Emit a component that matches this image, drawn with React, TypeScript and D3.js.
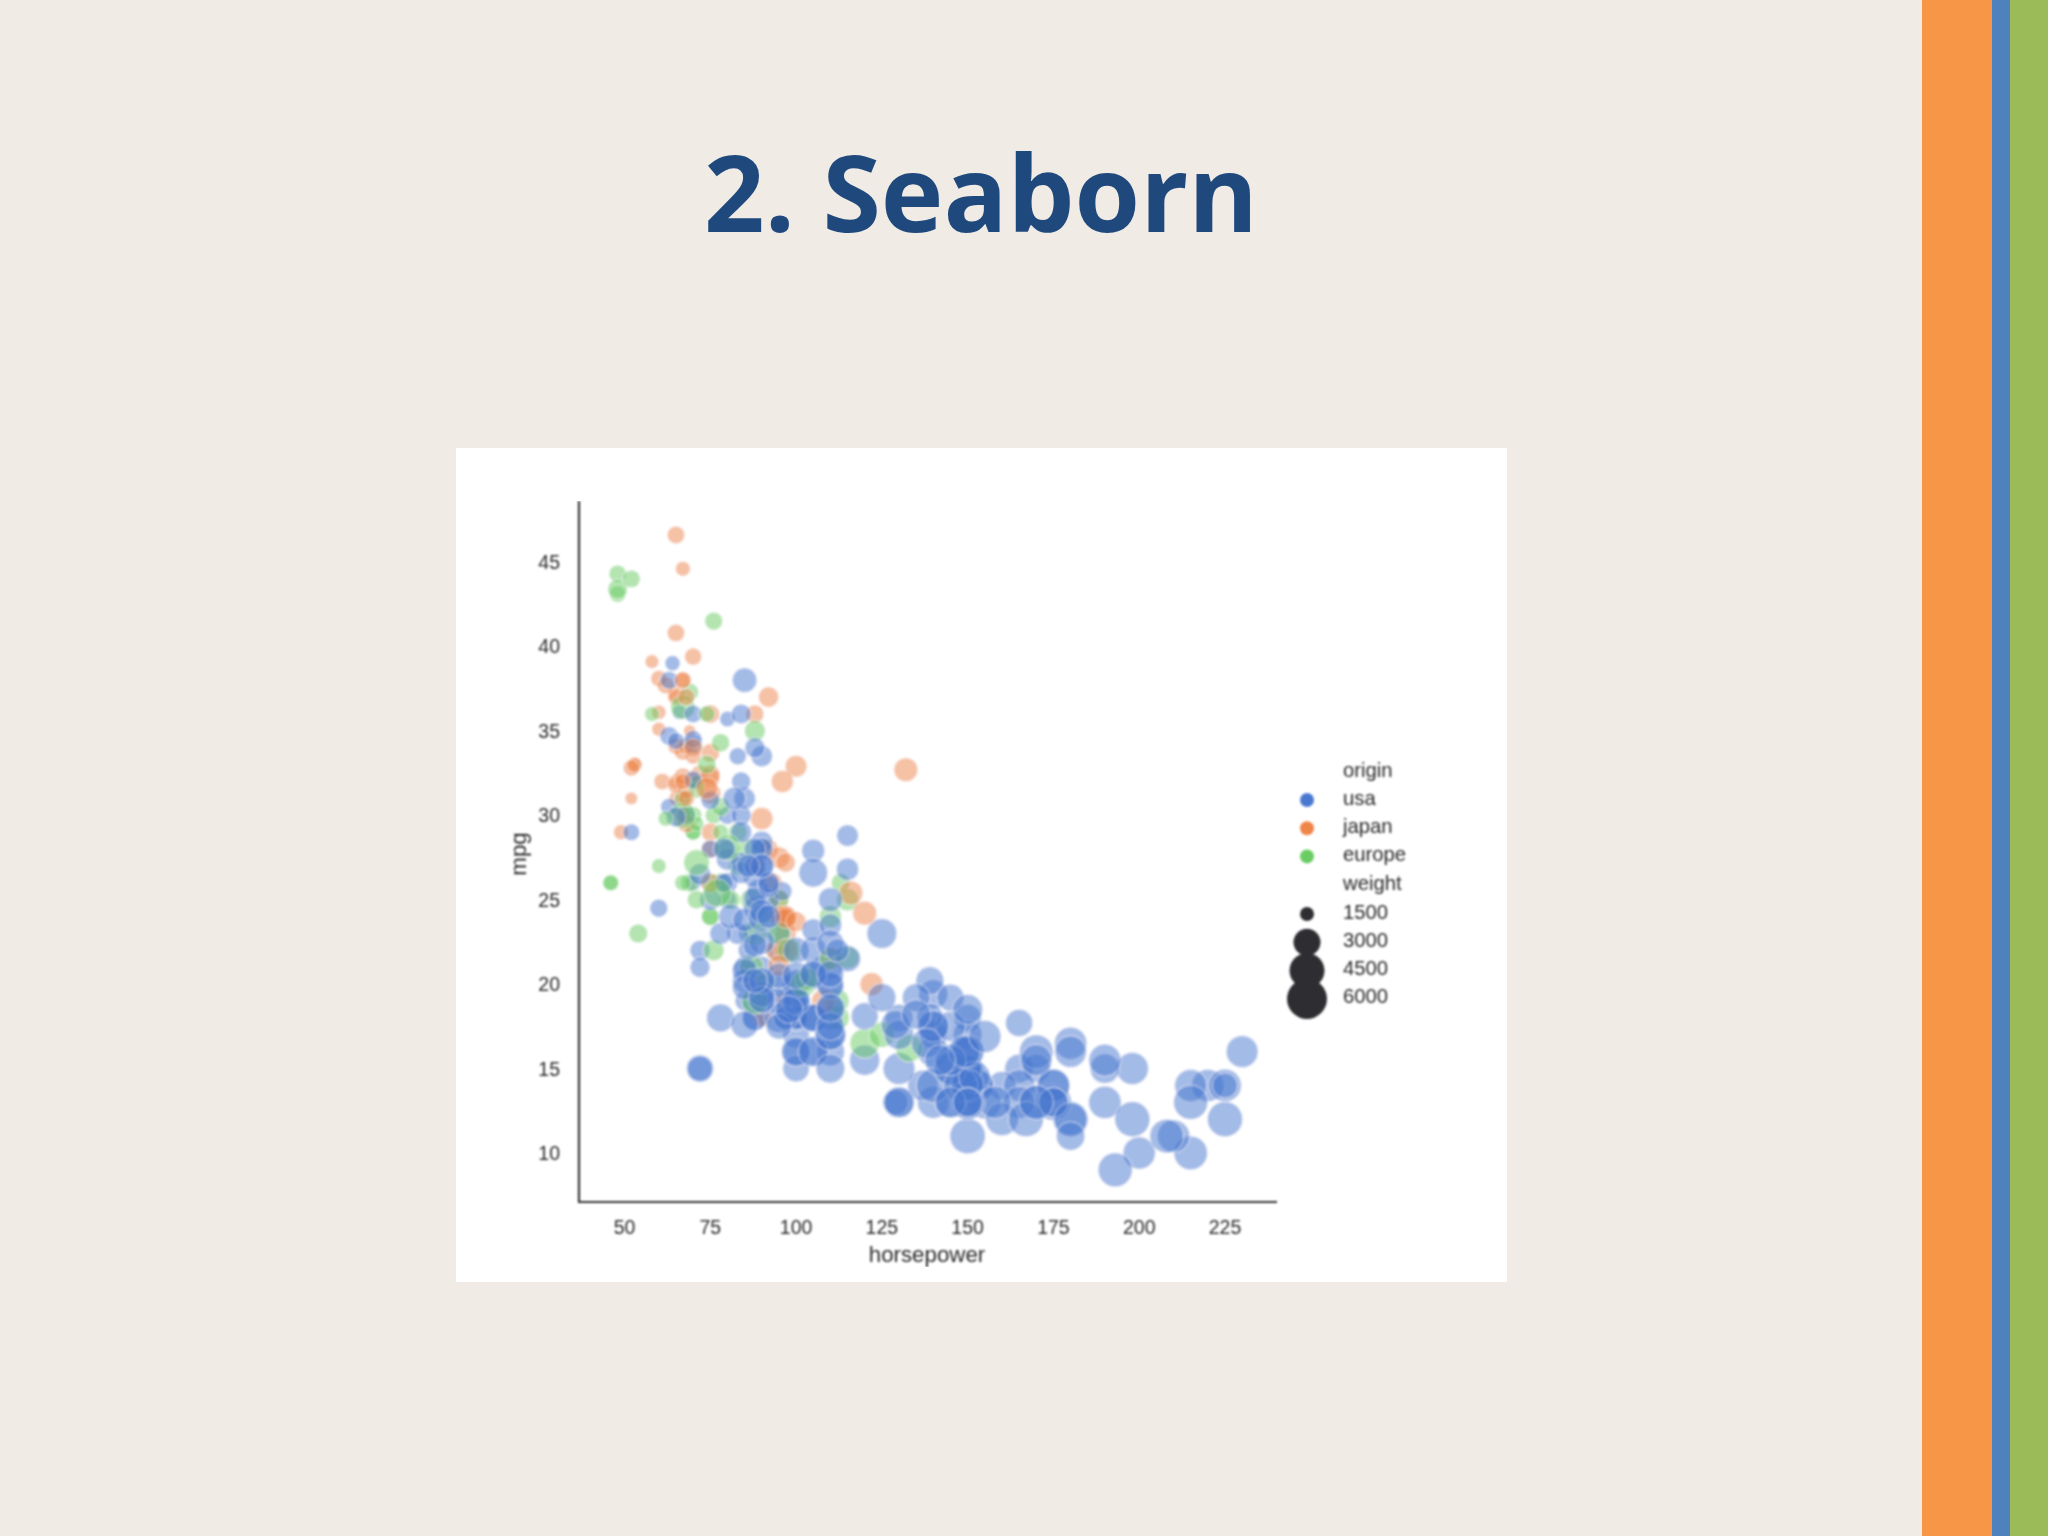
import * as React from 'react';
import * as d3 from 'd3';

// [horsepower, mpg, weight]
type Car = [number, number, number];

const usaCars: Car[] = [
  [130, 18, 3504], [165, 15, 3693], [150, 18, 3436], [150, 16, 3433], [140, 17, 3449], [198, 15, 4341],
  [220, 14, 4354], [215, 14, 4312], [225, 14, 4425], [190, 15, 3850], [170, 15, 3563], [160, 14, 3609],
  [150, 15, 3761], [225, 14, 3086], [95, 22, 2833], [97, 18, 2774], [85, 21, 2587], [90, 21, 2648],
  [215, 10, 4615], [200, 10, 4376], [210, 11, 4382], [193, 9, 4732], [90, 28, 2264], [100, 19, 2634],
  [105, 16, 3439], [100, 17, 3329], [88, 19, 3302], [100, 18, 3288], [165, 14, 4209], [175, 14, 4464],
  [153, 14, 4154], [150, 14, 4096], [180, 12, 4955], [170, 13, 4746], [175, 13, 5140], [110, 18, 2962],
  [72, 22, 2408], [100, 19, 3282], [88, 18, 3139], [86, 23, 2220], [70, 26, 1955], [80, 25, 2126],
  [90, 20, 2408], [86, 21, 2226], [165, 13, 4274], [175, 14, 4385], [150, 15, 4135], [153, 14, 4129],
  [150, 17, 3672], [208, 11, 4633], [155, 13, 4502], [160, 12, 4456], [190, 13, 4422], [150, 15, 3892],
  [130, 13, 4098], [140, 13, 4294], [150, 14, 4077], [86, 22, 2395], [80, 28, 2164], [175, 13, 4100],
  [150, 14, 3672], [145, 13, 3988], [137, 14, 4042], [150, 15, 3777], [198, 12, 4952], [150, 13, 4464],
  [158, 13, 4363], [150, 14, 4237], [215, 13, 4735], [225, 12, 4951], [175, 13, 3821], [105, 18, 3121],
  [100, 16, 3278], [100, 18, 2945], [88, 18, 3021], [95, 23, 2904], [150, 11, 4997], [167, 12, 4906],
  [170, 13, 4654], [180, 12, 4499], [100, 18, 2789], [72, 21, 2401], [85, 19, 2310], [107, 21, 2472],
  [145, 15, 4082], [230, 16, 4278], [150, 15, 3399], [180, 11, 3664], [95, 20, 3102], [100, 19, 2901],
  [100, 15, 3336], [80, 26, 2451], [75, 25, 2542], [100, 16, 3781], [110, 16, 3632], [105, 18, 3613],
  [140, 16, 4141], [150, 13, 4699], [150, 14, 4457], [140, 14, 4638], [150, 14, 4257], [75, 28, 2125],
  [95, 19, 3264], [105, 18, 3459], [72, 15, 3432], [72, 15, 3158], [170, 16, 4668], [145, 15, 4440],
  [150, 16, 4498], [148, 14, 4657], [110, 17, 3907], [105, 16, 3897], [110, 15, 3730], [95, 18, 3785],
  [110, 21, 3039], [110, 20, 3221], [129, 13, 3169], [83, 23, 2639], [100, 20, 2914], [78, 23, 2592],
  [97, 18, 2984], [90, 19, 3211], [92, 25, 2572], [79, 26, 2255], [140, 17.5, 4215], [150, 16, 4190],
  [120, 15.5, 3962], [152, 14.5, 4215], [100, 22, 3233], [105, 22, 3353], [81, 24, 3012], [90, 22.5, 3085],
  [52, 29, 2035], [60, 24.5, 2164], [100, 20, 3651], [78, 18, 3574], [110, 18.5, 3645], [95, 17.5, 3193],
  [72, 26.5, 2565], [150, 13, 3940], [180, 16.5, 4380], [145, 13, 4055], [130, 13, 3870], [150, 13, 3755],
  [80, 30, 2155], [96, 25.5, 2300], [145, 17.5, 3880], [110, 17, 4060], [145, 15.5, 4140], [130, 15, 4295],
  [110, 17.5, 3520], [105, 20.5, 3425], [100, 19, 3630], [98, 18.5, 3525], [180, 16, 4220], [170, 15.5, 4165],
  [190, 15.5, 4325], [149, 16, 4335], [88, 24.5, 2740], [89, 25.5, 2755], [63, 30.5, 2051], [83, 33.5, 2075],
  [66, 36.1, 1800], [110, 19.9, 3365], [140, 19.4, 3735], [139, 20.2, 3570], [135, 19.2, 3535], [95, 20.5, 3155],
  [85, 20.2, 2965], [88, 25.1, 2720], [100, 20.5, 3430], [90, 19.4, 3210], [105, 20.6, 3380], [85, 20.8, 3070],
  [110, 18.6, 3620], [120, 18.1, 3410], [145, 19.2, 3425], [165, 17.7, 3445], [139, 18.1, 3205], [140, 17.5, 4080],
  [68, 30, 2155], [75, 30.9, 2230], [105, 23.2, 2745], [85, 23.8, 2855], [115, 21.5, 3245], [85, 19.8, 2990],
  [88, 22.3, 2890], [90, 20.2, 3265], [110, 20.6, 3360], [130, 17, 3840], [129, 17.6, 3725], [138, 16.5, 3955],
  [135, 18.2, 3830], [155, 16.9, 4360], [142, 15.5, 4054], [125, 19.2, 3605], [150, 18.5, 3940], [80, 35.7, 1915],
  [80, 27.4, 2670], [125, 23, 3900], [90, 23.9, 3420], [70, 34.2, 2200], [70, 34.5, 2150], [90, 28.4, 2670],
  [115, 28.8, 2595], [115, 26.8, 2700], [90, 33.5, 2556], [70, 32.1, 2120], [90, 28, 2678], [88, 26.4, 2870],
  [90, 24.3, 3003], [90, 19.1, 3381], [105, 27.9, 2800], [84, 27.2, 2490], [84, 26.6, 2635], [92, 25.8, 2620],
  [110, 23.5, 2725], [84, 30, 2385], [64, 39, 1875], [63, 34.7, 2215], [65, 34.4, 2045], [65, 29.9, 2380],
  [110, 22.4, 3415], [105, 26.6, 3725], [88, 20.2, 3060], [85, 17.6, 3465], [88, 28, 2605], [88, 27, 2640],
  [88, 34, 2395], [85, 31, 2575], [84, 29, 2525], [90, 27, 2735], [92, 24, 2865], [63, 38, 2125],
  [70, 36, 2125], [110, 25, 2945], [85, 38, 3015], [92, 26, 2585], [112, 22, 2835], [84, 36, 2370],
  [90, 27, 2950], [86, 27, 2790], [84, 32, 2295], [79, 28, 2625], [82, 31, 2720],
];

const japanCars: Car[] = [
  [95, 24, 2372], [88, 27, 2130], [88, 27, 2130], [95, 25, 2228], [65, 31, 1773], [69, 35, 1613],
  [95, 24, 2278], [97, 19, 2330], [92, 28, 2288], [97, 23, 2506], [88, 27, 2100], [88, 20, 2279],
  [94, 22, 2379], [90, 18, 2124], [49, 29, 1867], [122, 20, 2807], [67, 31, 1950], [65, 32, 1836],
  [52, 31, 1649], [61, 32, 2003], [97, 24, 2489], [93, 26, 2391], [75, 29, 2171], [96, 24, 2702],
  [97, 24, 2545], [53, 33, 1795], [53, 33, 1795], [70, 32, 1990], [75, 28, 2155], [108, 19, 2930],
  [68, 31.5, 2045], [70, 33.5, 1945], [75, 26, 2265], [67, 30, 1985], [97, 22, 2815], [110, 21.5, 2720],
  [52, 32.8, 1985], [70, 39.4, 2070], [60, 36.1, 1800], [95, 27.5, 2560], [97, 27.2, 2300], [95, 21.1, 2515],
  [97, 23.9, 2405], [68, 29.5, 2135], [65, 34.1, 1975], [65, 31.8, 2020], [60, 38.1, 1968], [65, 37.2, 2019],
  [90, 29.8, 2711], [75, 31.3, 2542], [92, 37, 2434], [75, 32.2, 2265], [65, 46.6, 2110], [65, 40.8, 2110],
  [67, 44.6, 1850], [67, 33.8, 2145], [132, 32.7, 2910], [100, 23.7, 2420], [72, 32.4, 2290], [58, 39.1, 1755],
  [60, 35.1, 1760], [67, 32.3, 2065], [65, 37, 1975], [62, 37.7, 2050], [68, 34.1, 1985], [75, 33.7, 2210],
  [75, 32.4, 2350], [100, 32.9, 2615], [74, 31.6, 2635], [116, 25.4, 2900], [120, 24.2, 2930], [68, 37, 2025],
  [68, 31, 1970], [88, 36, 2160], [75, 36, 2205], [70, 34, 2245], [67, 38, 1965], [67, 32, 1965],
  [67, 38, 1995], [96, 32, 2665],
];

const europeCars: Car[] = [
  [46, 26, 1835], [87, 25, 2672], [90, 24, 2430], [95, 25, 2375], [113, 26, 2234], [90, 28, 2123],
  [70, 30, 2074], [76, 30, 2065], [60, 27, 1834], [54, 23, 2254], [112, 18, 2933], [76, 22, 2511],
  [87, 21, 2979], [69, 26, 2189], [46, 26, 1950], [75, 24, 2158], [91, 20, 2582], [112, 19, 2868],
  [110, 24, 2660], [83, 29, 2219], [67, 26, 1963], [78, 26, 2300], [75, 24, 2108], [75, 26, 2246],
  [67, 31, 2000], [71, 25, 2223], [70, 29, 1937], [95, 23, 2694], [88, 23, 2957], [98, 22, 2945],
  [115, 25, 2671], [86, 28, 2464], [81, 25, 2220], [83, 27, 2202], [70, 29, 1937], [71, 29.5, 1825],
  [102, 20, 3150], [88, 19, 3270], [120, 16.5, 3820], [58, 36, 1825], [78, 29, 1940], [78, 30.5, 2190],
  [110, 21.5, 2600], [48, 43.1, 1985], [103, 20.3, 2830], [125, 17, 3140], [115, 21.6, 2795], [133, 16.2, 3410],
  [71, 31.5, 1990], [71, 31.9, 1925], [77, 25.4, 3530], [71, 27.2, 3190], [69, 37.3, 2130], [76, 41.5, 2144],
  [78, 34.3, 2188], [48, 44.3, 2085], [48, 43.4, 2335], [67, 36.4, 2950], [67, 30, 3250], [62, 29.8, 1845],
  [88, 35, 2500], [74, 33, 2190], [80, 28.1, 3230], [74, 36, 1980], [52, 44, 2130],
];

const xTicks = [50, 75, 100, 125, 150, 175, 200, 225];
const yTicks = [10, 15, 20, 25, 30, 35, 40, 45];
const origins = ['usa', 'japan', 'europe'];
const originColors = ['#4878d0', '#ee854a', '#6acc64'];
const weightLegend = [1500, 3000, 4500, 6000];

const x = d3.scaleLinear().domain([50, 225]).range([624.5, 1225]);
const y = d3.scaleLinear().domain([10, 45]).range([1153, 562]);
// seaborn maps weight to marker area
const area = d3.scaleLinear().domain([1613, 5140]).range([38, 330]);
const radius = (w: number) => Math.sqrt(area(w));
// the legend markers in the picture are not on the same scale as the points
const legendRadius = d3.scaleLinear().domain(weightLegend).range([7, 13.5, 17.5, 20]);

const labelFont = '"Liberation Sans", Arial, sans-serif';
const textColor = '#2a2a2a';

export default function App() {
  // The three origins overlap in no fixed order, so weave them together
  const dots = d3.sort(
    [usaCars, japanCars, europeCars].flatMap((cars, i) =>
      cars.map((car, j) => ({ car, color: originColors[i], rank: j / cars.length })),
    ),
    (d) => d.rank,
  );
  const legendRows = ['origin', ...origins, 'weight'];
  return (
    <svg
      width={2048}
      height={1536}
      style={{ position: 'absolute', left: 0, top: 0, display: 'block' }}
    >
      <defs>
        <filter id="soft" x="0" y="0" width="100%" height="100%">
          <feGaussianBlur stdDeviation="0.9" />
        </filter>
      </defs>
      <rect width={2048} height={1536} fill="#f0ebe5" />
      <rect x={1922} width={70} height={1536} fill="#f79646" />
      <rect x={1992} width={18} height={1536} fill="#4f81bd" />
      <rect x={2010} width={38} height={1536} fill="#9bbb59" />
      <text
        x={981}
        y={232}
        textAnchor="middle"
        fontFamily='"Open Sans", sans-serif'
        fontWeight={700}
        fontSize={106}
        fill="#1f497d"
      >
        2. Seaborn
      </text>

      <rect x={456} y={448} width={1051} height={834} fill="#ffffff" />
      <g filter="url(#soft)" fontFamily={labelFont} fill={textColor}>
        {dots.map((d, j) => (
          <circle
            key={j}
            cx={x(d.car[0])}
            cy={y(d.car[1])}
            r={radius(d.car[2])}
            fill={d.color}
            fillOpacity={0.5}
            stroke="#ffffff"
            strokeOpacity={0.55}
            strokeWidth={1}
          />
        ))}

        <path d="M579,501V1202H1277" fill="none" stroke="#333333" strokeWidth={2.2} />

        {xTicks.map((t) => (
          <text key={t} x={x(t)} y={1234} textAnchor="middle" fontSize={19.5}>
            {t}
          </text>
        ))}
        {yTicks.map((t) => (
          <text key={t} x={560} y={y(t) + 7} textAnchor="end" fontSize={19.5}>
            {t}
          </text>
        ))}
        <text x={927} y={1262} textAnchor="middle" fontSize={22.3}>
          horsepower
        </text>
        <text
          transform="translate(526,854) rotate(-90)"
          textAnchor="middle"
          fontSize={22.3}
        >
          mpg
        </text>

        {legendRows.map((label, i) => (
          <text key={label} x={1343} y={776.5 + i * 28.3} fontSize={20.3}>
            {label}
          </text>
        ))}
        {origins.map((o, i) => (
          <circle key={o} cx={1307} cy={800 + i * 28.2} r={7} fill={originColors[i]} />
        ))}
        {weightLegend.map((w, i) => (
          <g key={w}>
            <circle cx={1307} cy={914 + i * 28.3} r={legendRadius(w)} fill="#2f2f33" />
            <text x={1343} y={918.5 + i * 28.3} fontSize={20.3}>
              {w}
            </text>
          </g>
        ))}
      </g>
    </svg>
  );
}
